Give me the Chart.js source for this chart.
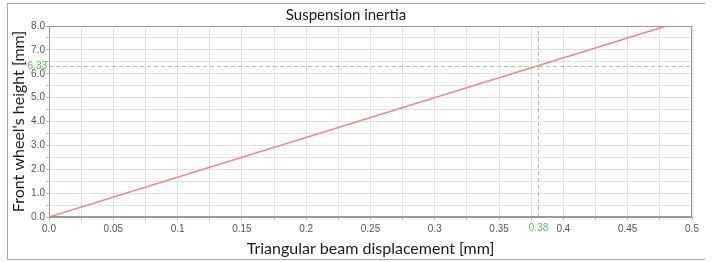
<!DOCTYPE html>
<html>
<head>
<meta charset="utf-8">
<script src="https://cdn.jsdelivr.net/npm/chart.js"></script>
<style>
    body { margin: 0; background: #fff; }
    #wrap { position: relative; width: 712px; height: 262px; }
    #frame { position: absolute; left: 7px; top: 3px; width: 697px; height: 255px; border-top: 1px solid #aaa; border-left: 1px solid #aaa; border-bottom: 1px solid #aaa; }
    canvas { position: absolute; left: 0; top: 0; }
</style>
</head>
<body>
<div id="wrap">
    <div id="frame"></div>
    <canvas id="chart" width="712" height="262"></canvas>
</div>
<script>
// Data
const displacement = [0.0, 0.48]
const wheelHeight = [0.0, 8.0]
const markerX = [0.38]
const markerY = [6.33]

const tickFont = { family: "Liberation Sans", size: 10 }
const titleFont = { family: "Lato", size: 16 }

// crosshair + plot border
const crosshair = {
    id: "crosshair",
    afterDatasetsDraw(chart) {
        const { ctx, chartArea, scales } = chart
        const px = Math.round(scales.x.getPixelForValue(markerX[0])) + 0.5
        const py = Math.round(scales.y.getPixelForValue(markerY[0])) + 0.5
        ctx.save()
        ctx.strokeStyle = "#8fd88f"
        ctx.lineWidth = 1
        ctx.setLineDash([4, 3])
        ctx.beginPath()
        ctx.moveTo(chartArea.left, py)
        ctx.lineTo(chartArea.right, py)
        ctx.moveTo(px, chartArea.bottom)
        ctx.lineTo(px, chartArea.top)
        ctx.stroke()
        ctx.setLineDash([])
        ctx.strokeStyle = "#9a9a9a"
        ctx.strokeRect(chartArea.left + 0.5, chartArea.top + 0.5, chartArea.width - 1, chartArea.height - 1)
        ctx.fillStyle = "#55c455"
        ctx.font = "10px 'Liberation Sans'"
        ctx.textAlign = "right"
        ctx.textBaseline = "middle"
        ctx.fillText(markerY[0].toFixed(2), chartArea.left - 2, py)
        ctx.textAlign = "center"
        ctx.textBaseline = "top"
        ctx.fillText(markerX[0].toFixed(2), px, chartArea.bottom + 6)
        ctx.restore()
    },
}

new Chart(document.getElementById("chart"), {
    type: "line",
    data: {
        datasets: [
            {
                data: displacement.map((x, i) => ({ x: x, y: wheelHeight[i] })),
                borderColor: "#ff8080",
                borderWidth: 1.5,
                pointRadius: 0,
                fill: false,
            },
        ],
    },
    options: {
        responsive: false,
        animation: false,
        layout: { padding: { left: 0, right: 20, top: 0, bottom: 0 } },
        plugins: {
            legend: { display: false },
            tooltip: { enabled: false },
            title: {
                display: true,
                text: "Suspension inertia",
                color: "#1a1a1a",
                font: { family: "Lato", size: 15, weight: "normal" },
                padding: { top: 6, bottom: 2 },
            },
        },
        scales: {
            x: {
                type: "linear",
                min: 0,
                max: 0.5,
                afterBuildTicks: (scale) => {
                    scale.ticks = []
                    for (let i = 0; i <= 20; i++) scale.ticks.push({ value: i * 0.025 })
                },
                afterFit: (scale) => {
                    scale.height = 45
                },
                ticks: {
                    autoSkip: false,
                    maxRotation: 0,
                    color: "#555",
                    font: tickFont,
                    padding: 3,
                    callback: (v) => {
                        const m = Math.round(v * 1000)
                        if (m % 50 !== 0) return ""
                        return m === 0 ? "0.0" : String(m / 1000)
                    },
                },
                grid: { color: "#e2e2e2", tickColor: "#aaa", tickLength: 3 },
                border: { color: "#9a9a9a" },
                title: {
                    display: true,
                    text: "Triangular beam displacement [mm]",
                    color: "#1a1a1a",
                    font: titleFont,
                    padding: { top: 0, bottom: 4 },
                },
            },
            y: {
                min: 0,
                max: 8,
                afterBuildTicks: (scale) => {
                    scale.ticks = []
                    for (let i = 0; i <= 16; i++) scale.ticks.push({ value: i * 0.5 })
                },
                afterFit: (scale) => {
                    scale.width = 49
                },
                ticks: {
                    autoSkip: false,
                    color: "#555",
                    font: tickFont,
                    padding: 1,
                    callback: (v) => (v % 1 === 0 ? v.toFixed(1) : ""),
                },
                grid: { color: "#e2e2e2", tickColor: "#aaa", tickLength: 3 },
                border: { color: "#9a9a9a" },
                title: {
                    display: true,
                    text: "Front wheel's height [mm]",
                    color: "#1a1a1a",
                    font: titleFont,
                    padding: { top: 9, bottom: 0 },
                },
            },
        },
    },
    plugins: [crosshair],
})
</script>
</body>
</html>
